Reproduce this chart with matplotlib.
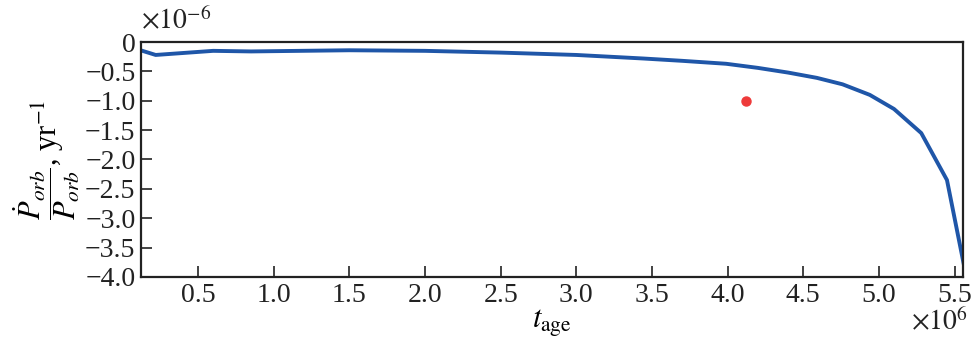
import matplotlib
matplotlib.use('Agg')
import matplotlib.pyplot as plt
import numpy as np

plt.rcParams['font.family'] = ['Liberation Serif', 'DejaVu Serif']
plt.rcParams['mathtext.fontset'] = 'stix'

# model track: age (units of 1e6 yr) and Pdot/P (units of 1e-6 yr^-1)
t_age = [0.12, 0.22, 0.60, 0.85, 1.50, 2.00, 2.50, 3.00, 3.44, 3.70, 3.99,
         4.20, 4.40, 4.59, 4.76, 4.94, 5.10, 5.28, 5.45, 5.56]
pdot_p = [-0.14, -0.22, -0.15, -0.16, -0.14, -0.15, -0.18, -0.22, -0.28, -0.32,
          -0.37, -0.44, -0.52, -0.61, -0.72, -0.90, -1.14, -1.55, -2.35, -3.77]

# observed point
obs_t = [4.12]
obs_p = [-1.0]

fig = plt.figure(figsize=(9.72, 3.39), dpi=100)
ax = fig.add_axes([0.145, 0.183, 0.846, 0.693])

ax.plot(t_age, pdot_p, color='#1f56a8', lw=2.8, zorder=2)
ax.plot(obs_t, obs_p, 'o', color='#ee3a3a', ms=6.5, zorder=3)

ax.set_xlim(0.1225, 5.5576)
ax.set_ylim(-4.0, 0.0)

xt = [0.5, 1.0, 1.5, 2.0, 2.5, 3.0, 3.5, 4.0, 4.5, 5.0, 5.5]
yt = [0, -0.5, -1.0, -1.5, -2.0, -2.5, -3.0, -3.5, -4.0]
ax.set_xticks(xt)
ax.set_xticklabels(['%.1f' % v for v in xt])
ax.set_yticks(yt)
ax.set_yticklabels(['0'] + ['\u2212%.1f' % abs(v) for v in yt[1:]])

ax.tick_params(direction='in', length=8, width=1.2, labelsize=20,
               colors='#222222', pad=4)
for s in ax.spines.values():
    s.set_linewidth(1.6)
    s.set_color('#222222')

# exponent labels
ax.text(0.0, 1.03, r'$\times10^{-6}$', transform=ax.transAxes, fontsize=20,
        ha='left', va='bottom', color='#222222')
ax.text(1.006, -0.135, r'$\times10^{6}$', transform=ax.transAxes, fontsize=20,
        ha='right', va='top', color='#222222')

ax.set_xlabel(r'$t_{\rm age}$', fontsize=22, labelpad=0)
ax.set_ylabel(r'$\dfrac{\dot{P}_{orb}}{P_{orb}}$, yr$^{-1}$', fontsize=22,
              labelpad=2)

fig.savefig('out.png', dpi=100)
plt.close()
